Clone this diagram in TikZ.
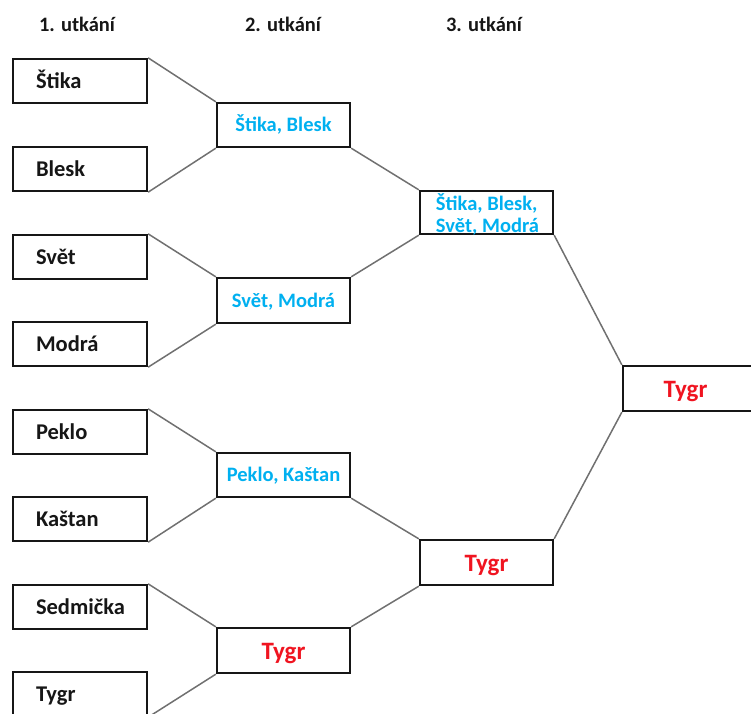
\documentclass[tikz,border=0pt]{standalone}
\usepackage{fontspec}
\setmainfont{Carlito}
\usetikzlibrary{backgrounds}
\definecolor{teamblue}{RGB}{0,176,240}
\definecolor{winred}{RGB}{240,20,32}
\definecolor{inkblack}{RGB}{22,22,22}
\definecolor{linkgray}{RGB}{112,112,112}
\newcommand{\firstname}[1]{\makebox[134pt][l]{\hspace{23pt}#1}}
\begin{document}
\begin{tikzpicture}[x=1pt,y=-1pt,
  box/.style={draw=inkblack, line width=2.3pt, fill=white,
    minimum width=134pt, minimum height=44pt, inner sep=0pt},
  firstbox/.style={box, text=inkblack, text height=14.3pt, text depth=0pt,
    font=\bfseries\fontsize{22.5}{27}\selectfont},
  bluebox/.style={box, text=teamblue, text height=13.4pt, text depth=0pt,
    font=\bfseries\fontsize{20.5}{22}\selectfont},
  redbox/.style={box, text=winred, text height=17pt, text depth=0pt,
    font=\bfseries\fontsize{25}{30}\selectfont},
  hdr/.style={anchor=base, text=inkblack, inner sep=0pt,
    font=\bfseries\fontsize{20.5}{24}\selectfont},
  conn/.style={draw=linkgray, line width=1.5pt}
]
\useasboundingbox (0,0) rectangle (751,713);

% round headings
\node[hdr] (h1) at (77,31) {1. utkání};
\node[hdr] (h2) at (283,31) {2. utkání};
\node[hdr] (h3) at (484,31) {3. utkání};

% first round
\node[firstbox] (a1) at (80,81) {\firstname{Štika}};
\node[firstbox] (a2) at (80,169) {\firstname{Blesk}};
\node[firstbox] (a3) at (80,257) {\firstname{Svět}};
\node[firstbox] (a4) at (80,344) {\firstname{Modrá}};
\node[firstbox] (a5) at (80,432) {\firstname{Peklo}};
\node[firstbox] (a6) at (80,519) {\firstname{Kaštan}};
\node[firstbox] (a7) at (80,607) {\firstname{Sedmička}};
\node[firstbox] (a8) at (80,694) {\firstname{Tygr}};

% second round
\node[bluebox, minimum width=133pt] (b1) at (283.5,125) {Štika, Blesk};
\node[bluebox, minimum width=133pt, minimum height=45pt] (b2) at (283.5,300.5) {Svět, Modrá};
\node[bluebox, minimum width=133pt] (b3) at (283.5,475) {Peklo, Kaštan};
\node[redbox, minimum width=133pt, minimum height=45pt] (b4) at (283.5,650.5) {Tygr};

% third round
\node[box, minimum width=133pt, minimum height=43pt,
  label={[text=teamblue, align=left, inner sep=0pt,
    font=\bfseries\fontsize{20.5}{22}\selectfont, yshift=-1.5pt, xshift=1pt]center:Štika, Blesk,\\Svět, Modrá}]
  (c1) at (486.5,212.5) {};
\node[redbox, minimum width=133pt, minimum height=45pt] (c2) at (486.5,562.5) {Tygr};

% final
\node[redbox, minimum width=134pt, minimum height=45pt] (d1) at (690,388.5) {\hspace*{-9pt}Tygr};

% connectors, kept behind the boxes
\begin{scope}[on background layer]
  \draw[conn] (a1.north east) -- (b1.north west);
  \draw[conn] (a2.south east) -- (b1.south west);
  \draw[conn] (a3.north east) -- (b2.north west);
  \draw[conn] (a4.south east) -- (b2.south west);
  \draw[conn] (a5.north east) -- (b3.north west);
  \draw[conn] (a6.south east) -- (b3.south west);
  \draw[conn] (a7.north east) -- (b4.north west);
  \draw[conn] (a8.south east) -- (b4.south west);
  \draw[conn] (b1.south east) -- (c1.north west);
  \draw[conn] (b2.north east) -- (c1.south west);
  \draw[conn] (b3.south east) -- (c2.north west);
  \draw[conn] (b4.north east) -- (c2.south west);
  \draw[conn] (c1.south east) -- (d1.north west);
  \draw[conn] (c2.north east) -- (d1.south west);
\end{scope}
\end{tikzpicture}
\end{document}
